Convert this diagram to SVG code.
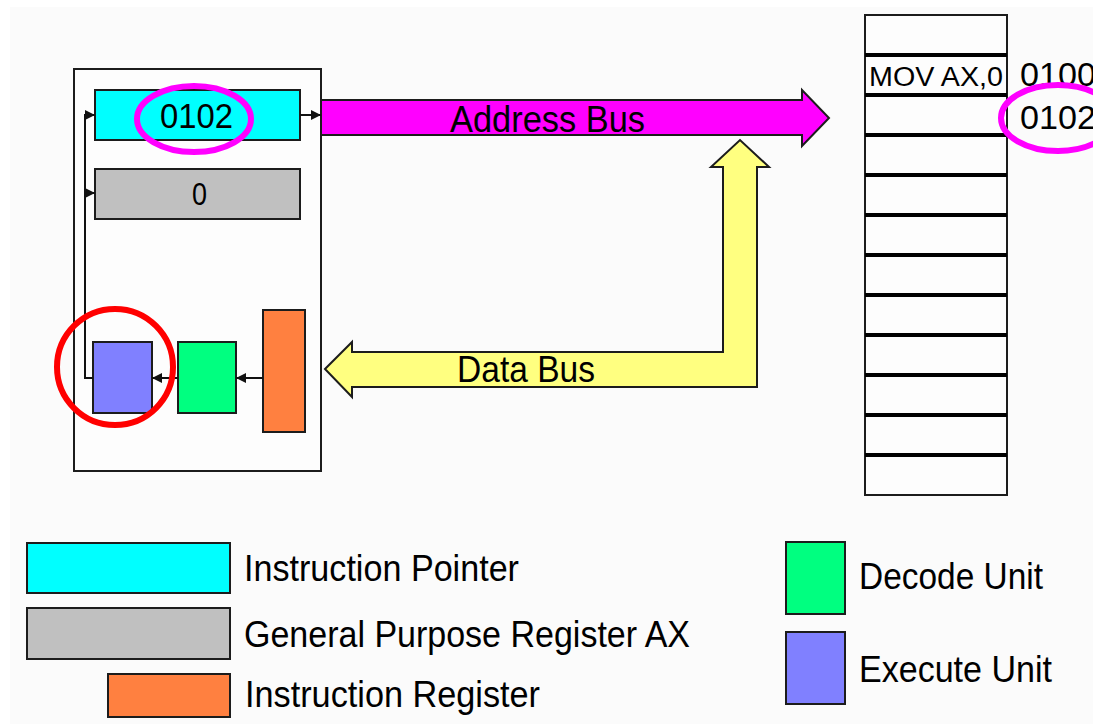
<svg xmlns="http://www.w3.org/2000/svg" width="1093" height="724" viewBox="0 0 1093 724">
  <style>
    .box { stroke: #1c1c1c; stroke-width: 2; }
    .txt { font-family: "Liberation Sans", Arial, sans-serif; fill: #000; }
    .wire { fill: none; stroke: #111; stroke-width: 2; }
    .ring { fill: none; stroke-width: 6; }
  </style>
  <defs>
    <marker id="tip" viewBox="0 0 10 10" refX="10" refY="5" markerWidth="5" markerHeight="5" orient="auto" markerUnits="strokeWidth">
      <path d="M0,0 L10,5 L0,10 Z" fill="#111"/>
    </marker>
  </defs>

  <!-- page -->
  <rect x="0" y="0" width="1093" height="724" fill="#ffffff"/>
  <rect x="10" y="7" width="1083" height="717" fill="#fbfbfb"/>

  <!-- processor outline -->
  <g id="cpu">
    <rect x="74" y="69" width="247" height="402" fill="#fdfdfd" class="box"/>
  </g>

  <!-- buses -->
  <g id="address-bus">
    <path d="M321,100 L802,100 L802,90 L829,118 L802,146 L802,135 L321,135 Z" fill="#ff00ff" class="box"/>
    <text class="txt" x="450" y="132" font-size="37" textLength="195" lengthAdjust="spacingAndGlyphs">Address Bus</text>
  </g>
  <g id="data-bus">
    <path d="M325,369 L352,342 L352,352 L723,352 L723,167 L711,167 L740,140 L769,167 L757,167 L757,387 L352,387 L352,397 Z" fill="#ffff80" class="box"/>
    <text class="txt" x="457" y="382" font-size="36" textLength="138" lengthAdjust="spacingAndGlyphs">Data Bus</text>
  </g>

  <!-- registers and units -->
  <g id="instruction-pointer">
    <rect x="95" y="90" width="205" height="50" fill="#00ffff" class="box"/>
    <text class="txt" x="160" y="128" font-size="35" textLength="73" lengthAdjust="spacingAndGlyphs">0102</text>
  </g>
  <g id="register-ax">
    <rect x="95" y="169" width="205" height="50" fill="#c0c0c0" class="box"/>
    <text class="txt" x="192" y="205" font-size="31" textLength="15" lengthAdjust="spacingAndGlyphs">0</text>
  </g>
  <g id="execute-unit">
    <rect x="93" y="342" width="59" height="71" fill="#8080ff" class="box"/>
  </g>
  <g id="decode-unit">
    <rect x="178" y="342" width="58" height="71" fill="#00ff80" class="box"/>
  </g>
  <g id="instruction-register">
    <rect x="263" y="310" width="42" height="122" fill="#ff8040" class="box"/>
  </g>

  <!-- internal data paths -->
  <g id="connectors">
    <path class="wire" d="M93,378 L85,378 L85,115 L95,115" marker-end="url(#tip)"/>
    <path class="wire" d="M85,193 L95,193" marker-end="url(#tip)"/>
    <path class="wire" d="M300,115 L321,115" marker-end="url(#tip)"/>
    <path class="wire" d="M263,378 L236,378" marker-end="url(#tip)"/>
    <path class="wire" d="M178,378 L152,378" marker-end="url(#tip)"/>
  </g>

  <!-- memory -->
  <g id="memory">
    <rect x="865" y="15" width="142" height="480" fill="#fdfdfd" class="box"/>
    <g stroke="#000" stroke-width="4">
      <line x1="865" y1="55" x2="1007" y2="55"/>
      <line x1="865" y1="95" x2="1007" y2="95"/>
      <line x1="865" y1="135" x2="1007" y2="135"/>
      <line x1="865" y1="175" x2="1007" y2="175"/>
      <line x1="865" y1="215" x2="1007" y2="215"/>
      <line x1="865" y1="255" x2="1007" y2="255"/>
      <line x1="865" y1="295" x2="1007" y2="295"/>
      <line x1="865" y1="335" x2="1007" y2="335"/>
      <line x1="865" y1="375" x2="1007" y2="375"/>
      <line x1="865" y1="415" x2="1007" y2="415"/>
      <line x1="865" y1="455" x2="1007" y2="455"/>
    </g>
    <text class="txt" x="869" y="86" font-size="27" textLength="134" lengthAdjust="spacingAndGlyphs">MOV AX,0</text>
    <text class="txt" x="1020" y="86" font-size="33" textLength="76" lengthAdjust="spacingAndGlyphs">0100</text>
    <text class="txt" x="1020" y="129" font-size="33" textLength="76" lengthAdjust="spacingAndGlyphs">0102</text>
  </g>

  <!-- highlights -->
  <g id="highlights">
    <ellipse class="ring" cx="194" cy="119" rx="57" ry="33" stroke="#ff00ff"/>
    <ellipse class="ring" cx="1058" cy="118" rx="57" ry="33" stroke="#ff00ff"/>
    <circle class="ring" cx="115" cy="367" r="58" stroke="#ff0000"/>
  </g>

  <!-- legend -->
  <g id="legend-ip">
    <rect x="27" y="543" width="203" height="50" fill="#00ffff" class="box"/>
    <text class="txt" x="244" y="581" font-size="37" textLength="275" lengthAdjust="spacingAndGlyphs">Instruction Pointer</text>
  </g>
  <g id="legend-ax">
    <rect x="27" y="608" width="203" height="51" fill="#c0c0c0" class="box"/>
    <text class="txt" x="244" y="647" font-size="37" textLength="446" lengthAdjust="spacingAndGlyphs">General Purpose Register AX</text>
  </g>
  <g id="legend-ir">
    <rect x="108" y="674" width="122" height="43" fill="#ff8040" class="box"/>
    <text class="txt" x="245" y="707" font-size="37" textLength="295" lengthAdjust="spacingAndGlyphs">Instruction Register</text>
  </g>
  <g id="legend-decode">
    <rect x="786" y="542" width="59" height="72" fill="#00ff80" class="box"/>
    <text class="txt" x="859" y="589" font-size="37" textLength="184" lengthAdjust="spacingAndGlyphs">Decode Unit</text>
  </g>
  <g id="legend-execute">
    <rect x="786" y="632" width="59" height="72" fill="#8080ff" class="box"/>
    <text class="txt" x="859" y="682" font-size="37" textLength="193" lengthAdjust="spacingAndGlyphs">Execute Unit</text>
  </g>
</svg>
